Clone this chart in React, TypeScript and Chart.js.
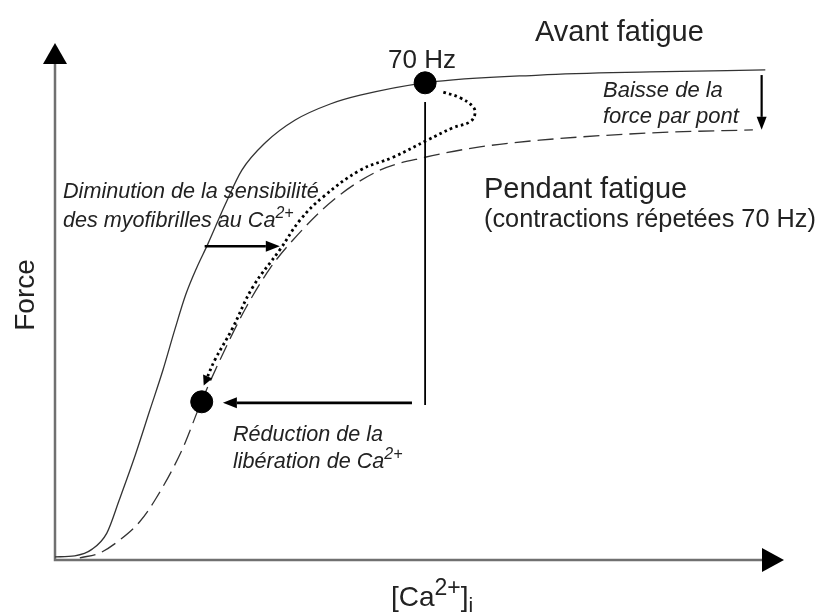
import React, { useEffect, useRef } from "react";
import { Chart, registerables } from "chart.js";

Chart.register(...registerables);

// ---- Data (arbitrary units: [Ca2+]i 0-100, Force 0-100) ----
const beforeCa = [0, 2.7, 5.1, 7.1, 8.8, 11.0, 13.0, 14.8, 16.4, 17.9, 19.4, 20.9, 23.3, 25.6, 28.8, 32.9, 37.7, 41.8, 50.7, 66.4, 81.5, 97.3];
const beforeForce = [0.6, 0.8, 2.1, 5.2, 11.6, 20.3, 29.0, 36.8, 44.5, 51.3, 56.5, 61.0, 68.7, 75.4, 80.7, 85.1, 88.2, 89.9, 92.3, 93.8, 94.4, 94.8];

const duringCa = [3.4, 6.2, 8.9, 11.6, 13.7, 17.4, 20.1, 22.6, 26.0, 29.5, 32.6, 38.1, 44.5, 50.7, 58.2, 66.4, 81.5, 95.6];
const duringForce = [0.4, 1.4, 3.9, 7.4, 11.6, 21.3, 30.8, 38.7, 48.4, 56.5, 61.9, 69.6, 75.4, 77.9, 79.9, 81.2, 82.6, 83.2];

const pathCa = [53.2, 55.5, 57.3, 57.5, 56.8, 54.5, 51.0, 46.3, 41.8, 36.7, 33.6, 30.8, 27.1, 24.2, 21.9, 20.7];
const pathForce = [90.5, 89.4, 87.6, 86.1, 84.7, 83.6, 81.2, 77.9, 75.4, 70.2, 65.8, 60.0, 52.8, 44.5, 38.7, 34.8];

const stateCa = [50.7, 20.1];
const stateForce = [92.3, 30.6];

const dropCa = [50.7, 50.7];
const dropForce = [88.6, 30.0];

const releaseArrowCa = [48.9, 23.0];
const releaseArrowForce = [30.4, 30.4];

const sensArrowCa = [20.5, 30.8];
const sensArrowForce = [60.7, 60.7];

const bridgeArrowCa = [96.8, 96.8];
const bridgeArrowForce = [93.8, 83.2];

const toPts = (xs: number[], ys: number[]) => xs.map((x, i) => ({ x, y: ys[i] }));

const TEXT = "#222";
const FONT = '"Liberation Sans", Arial, sans-serif';

function drawRuns(ctx: CanvasRenderingContext2D, x: number, y: number, parts: [string, string, number][]) {
  let cx = x;
  for (const [t, f, dy] of parts) {
    ctx.font = f;
    ctx.fillText(t, cx, y + dy);
    cx += ctx.measureText(t).width;
  }
}

function head(ctx: CanvasRenderingContext2D, x1: number, y1: number, x2: number, y2: number, len: number, hw: number) {
  const a = Math.atan2(y2 - y1, x2 - x1);
  const bx = x2 - Math.cos(a) * len;
  const by = y2 - Math.sin(a) * len;
  ctx.beginPath();
  ctx.moveTo(x2, y2);
  ctx.lineTo(bx + Math.sin(a) * hw, by - Math.cos(a) * hw);
  ctx.lineTo(bx - Math.sin(a) * hw, by + Math.cos(a) * hw);
  ctx.closePath();
  ctx.fill();
  return [bx, by];
}

function arrow(chart: any, xs: number[], ys: number[], width: number, len: number, hw: number) {
  const ctx = chart.ctx;
  const sx = chart.scales.x, sy = chart.scales.y;
  const x1 = sx.getPixelForValue(xs[0]), y1 = sy.getPixelForValue(ys[0]);
  const x2 = sx.getPixelForValue(xs[1]), y2 = sy.getPixelForValue(ys[1]);
  ctx.save();
  ctx.fillStyle = "#000";
  ctx.strokeStyle = "#000";
  const [bx, by] = head(ctx, x1, y1, x2, y2, len, hw);
  ctx.lineWidth = width;
  ctx.beginPath();
  ctx.moveTo(x1, y1);
  ctx.lineTo(bx, by);
  ctx.stroke();
  ctx.restore();
}

const overlay = {
  id: "overlay",
  beforeDatasetsDraw(chart: any) {
    const ctx = chart.ctx as CanvasRenderingContext2D;
    const a = chart.chartArea;
    ctx.save();
    ctx.strokeStyle = "#707070";
    ctx.lineWidth = 2.5;
    ctx.beginPath();
    ctx.moveTo(a.left, a.top + 20);
    ctx.lineTo(a.left, a.bottom);
    ctx.lineTo(a.right - 22, a.bottom);
    ctx.stroke();
    ctx.fillStyle = "#000";
    ctx.beginPath();
    ctx.moveTo(a.left, a.top);
    ctx.lineTo(a.left - 12, a.top + 21);
    ctx.lineTo(a.left + 12, a.top + 21);
    ctx.closePath();
    ctx.fill();
    ctx.beginPath();
    ctx.moveTo(a.right - 1, a.bottom);
    ctx.lineTo(a.right - 23, a.bottom - 12);
    ctx.lineTo(a.right - 23, a.bottom + 12);
    ctx.closePath();
    ctx.fill();
    ctx.restore();
  },
  afterDatasetsDraw(chart: any) {
    const ctx = chart.ctx as CanvasRenderingContext2D;
    const sx = chart.scales.x, sy = chart.scales.y;
    // arrow head of the dotted path
    {
      const n = pathCa.length;
      const x1 = sx.getPixelForValue(pathCa[n - 2]), y1 = sy.getPixelForValue(pathForce[n - 2]);
      const x2 = sx.getPixelForValue(pathCa[n - 1]), y2 = sy.getPixelForValue(pathForce[n - 1]);
      const d = Math.hypot(x2 - x1, y2 - y1);
      ctx.save();
      ctx.fillStyle = "#000";
      head(ctx, x1, y1, x2 + (x2 - x1) / d * 6, y2 + (y2 - y1) / d * 6, 10, 5);
      ctx.restore();
    }
    arrow(chart, releaseArrowCa, releaseArrowForce, 2.6, 14, 5.5);
    arrow(chart, sensArrowCa, sensArrowForce, 2.6, 14, 5.5);
    arrow(chart, bridgeArrowCa, bridgeArrowForce, 2.2, 13, 5);

    ctx.save();
    ctx.fillStyle = TEXT;
    ctx.textBaseline = "alphabetic";
    ctx.textAlign = "left";
    const n29 = `29px ${FONT}`;
    const n25 = `25.3px ${FONT}`;
    const i22 = `italic 22px ${FONT}`;
    const i216 = `italic 21.6px ${FONT}`;
    const i16 = `italic 16px ${FONT}`;
    drawRuns(ctx, 535, 41, [["Avant fatigue", n29, 0]]);
    drawRuns(ctx, 388, 68, [["70 Hz", `26px ${FONT}`, 0]]);
    drawRuns(ctx, 603, 97, [["Baisse de la", i22, 0]]);
    drawRuns(ctx, 603, 123, [["force par pont", i22, 0]]);
    drawRuns(ctx, 484, 198, [["Pendant fatigue", n29, 0]]);
    drawRuns(ctx, 484, 227, [["(contractions répetées 70 Hz)", n25, 0]]);
    drawRuns(ctx, 63, 198, [["Diminution de la sensibilité", i216, 0]]);
    drawRuns(ctx, 63, 227, [["des myofibrilles au Ca", i216, 0], ["2+", i16, -9]]);
    drawRuns(ctx, 233, 441, [["Réduction de la", i216, 0]]);
    drawRuns(ctx, 233, 468, [["libération de Ca", i216, 0], ["2+", i16, -9]]);
    // x axis title
    drawRuns(ctx, 391, 606, [["[Ca", `28px ${FONT}`, 0], ["2+", `23px ${FONT}`, -11], ["]", `28px ${FONT}`, 0], ["i", `21px ${FONT}`, 6]]);
    // y axis title
    ctx.translate(34, 295);
    ctx.rotate(-Math.PI / 2);
    ctx.textAlign = "center";
    ctx.font = `28px ${FONT}`;
    ctx.fillText("Force", 0, 0);
    ctx.restore();
  },
};

export default function App() {
  const ref = useRef<HTMLCanvasElement>(null);
  useEffect(() => {
    if (!ref.current) return;
    const chart = new Chart(ref.current, {
      type: "scatter",
      data: {
        datasets: [
          {
            data: toPts(stateCa, stateForce),
            pointRadius: 11,
            pointBackgroundColor: "#000",
            pointBorderColor: "#000",
            showLine: false,
          },
          {
            data: toPts(dropCa, dropForce),
            showLine: true,
            borderColor: "#000",
            borderWidth: 1.8,
            pointRadius: 0,
          },
          {
            data: toPts(pathCa, pathForce),
            showLine: true,
            borderColor: "#000",
            borderWidth: 2.8,
            borderDash: [2.6, 3.2],
            tension: 0.4,
            pointRadius: 0,
          },
          {
            data: toPts(duringCa, duringForce),
            showLine: true,
            borderColor: "#333",
            borderWidth: 1.3,
            borderDash: [16, 7],
            cubicInterpolationMode: "monotone",
            pointRadius: 0,
          },
          {
            data: toPts(beforeCa, beforeForce),
            showLine: true,
            borderColor: "#333",
            borderWidth: 1.3,
            cubicInterpolationMode: "monotone",
            pointRadius: 0,
          },
        ],
      } as any,
      options: {
        animation: false,
        responsive: false,
        events: [],
        layout: { padding: { left: 55, right: 36, top: 43, bottom: 55 } },
        scales: {
          x: { type: "linear", min: 0, max: 100, display: false },
          y: { type: "linear", min: 0, max: 100, display: false },
        },
        plugins: { legend: { display: false }, tooltip: { enabled: false } },
      } as any,
      plugins: [overlay],
    });
    return () => chart.destroy();
  }, []);
  return (
    <div style={{ position: "fixed", left: 0, top: 0, width: 821, height: 615, background: "#fff" }}>
      <canvas ref={ref} width={821} height={615} />
    </div>
  );
}
